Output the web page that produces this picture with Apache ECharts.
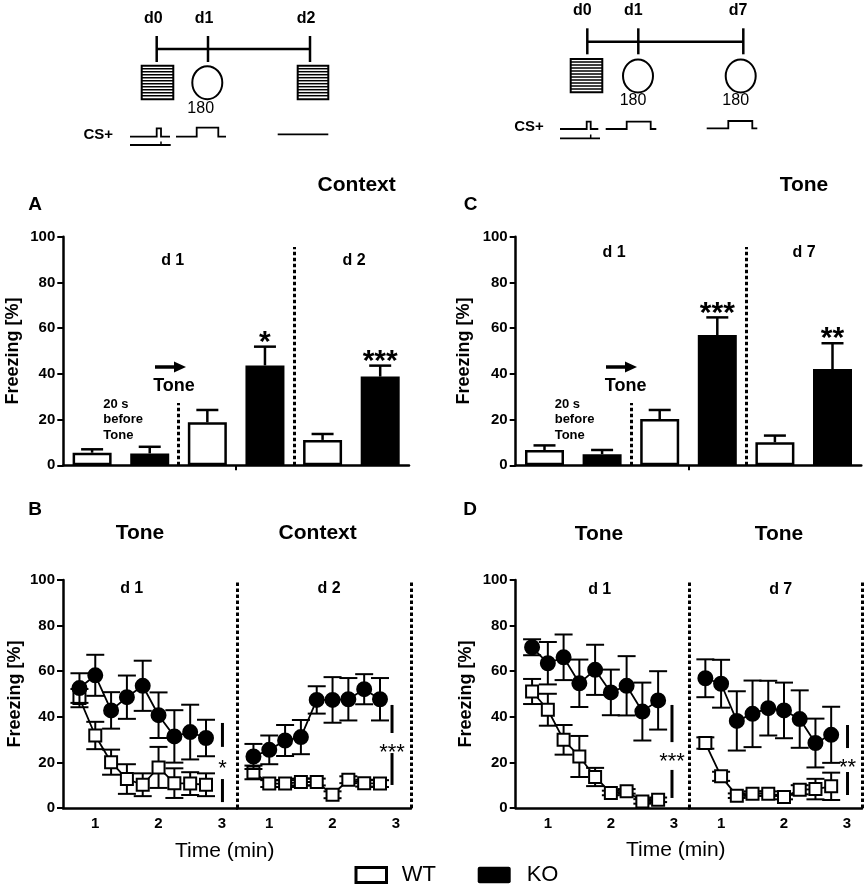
<!DOCTYPE html>
<html><head><meta charset="utf-8">
<script src="https://cdn.jsdelivr.net/npm/echarts@6/dist/echarts.min.js"></script>
<style>html,body{margin:0;padding:0;background:#fff}#c{width:868px;height:889px}</style>
</head><body><div id="c"></div>
<script>
// ---------- DATA ----------
// Panels A / C : bar groups (20 s before tone, tone d1, retrieval)
const barGroups = ['WT', 'KO', 'WT', 'KO', 'WT', 'KO'];
const aMeans  = [5.5, 5.2, 18.8, 43.7, 11.1, 38.8];
const aErrors = [1.5, 2.9, 5.4, 8.2, 2.6, 4.8];
const aStars  = ['', '', '', '*', '', '***'];
const cMeans  = [6.7, 4.8, 20.2, 57.0, 10.1, 42.1];
const cErrors = [2.0, 1.9, 4.0, 7.7, 2.9, 11.3];
const cStars  = ['', '', '', '***', '', '**'];

// Panels B / D : time course (min)
const timeBins  = [0.75, 1.0, 1.25, 1.5, 1.75, 2.0, 2.25, 2.5, 2.75];
const timeTicks = [1, 2, 3];
const yTicksStep = 20;

const bD1KO    = [52.6, 58.2, 42.8, 48.6, 53.6, 40.7, 31.4, 33.3, 30.7];
const bD1KOErr = [6.5, 9.0, 8.0, 9.5, 11.0, 10.0, 11.5, 12.0, 8.0];
const bD1WT    = [48.2, 31.8, 20.1, 12.7, 10.2, 17.8, 10.9, 10.7, 10.2];
const bD1WTErr = [4.0, 6.0, 5.5, 6.5, 5.0, 9.0, 6.5, 5.0, 5.0];
const bD2KO    = [22.6, 25.5, 29.6, 31.1, 47.4, 47.4, 47.7, 52.1, 47.7];
const bD2KOErr = [5.5, 6.3, 6.8, 7.5, 6.0, 10.0, 9.3, 6.6, 9.3];
const bD2WT    = [15.6, 10.7, 10.7, 11.4, 11.4, 5.8, 12.4, 10.9, 10.7];
const bD2WTErr = [3.0, 1.5, 1.5, 1.5, 1.5, 1.5, 1.5, 1.5, 1.5];

const dD1KO    = [70.5, 63.5, 66.1, 54.7, 60.6, 50.7, 53.6, 42.3, 47.2];
const dD1KOErr = [3.5, 9.3, 10.0, 10.4, 11.0, 10.0, 13.0, 12.7, 12.8];
const dD1WT    = [51.1, 43.1, 29.9, 22.6, 13.6, 6.6, 7.3, 2.9, 3.6];
const dD1WTErr = [5.5, 7.0, 6.5, 9.0, 4.0, 1.0, 1.0, 1.0, 1.0];
const dD7KO    = [56.9, 54.5, 38.2, 41.3, 43.8, 42.8, 39.0, 28.5, 32.1];
const dD7KOErr = [8.3, 10.5, 13.0, 14.6, 12.0, 12.2, 12.6, 10.7, 12.3];
const dD7WT    = [28.5, 13.9, 5.4, 6.3, 6.3, 4.8, 8.0, 8.3, 9.5];
const dD7WTErr = [2.5, 2.0, 1.0, 1.0, 1.0, 1.0, 2.0, 4.5, 6.0];

// significance brackets: [x, top, upperEnd, lowerStart, bottom, starY]
const sigB1 = [3.01, 37.3, 26.8, 12.7, 2.6, 19.7];
const sigB2 = [2.94, 45.2, 32.9, 24.1, 10.1, 26.8];
const sigD1 = [2.97, 45.2, 28.9, 16.7, 4.4, 22.8];
const sigD2 = [3.01, 36.4, 26.3, 15.8, 5.7, 20.2];
const sigLabels = ['*', '***', '***', '**'];

// ---------- BUILD ----------
const FONT = '"Liberation Sans", Arial, sans-serif';
const K = '#000';
const chart = echarts.init(document.getElementById('c'), null, {renderer: 'canvas'});

function barX(g) {
  return {type: 'value', gridIndex: g, min: -0.5, max: 5.5,
    axisLine: {show: true, onZero: false, lineStyle: {color: K, width: 2.5}},
    axisTick: {show: true, customValues: [2.5], length: 5, lineStyle: {color: K, width: 2}},
    axisLabel: {show: false}, splitLine: {show: false}};
}
function timeX(g) {
  return {type: 'value', gridIndex: g, min: 0.49, max: 3.24,
    axisLine: {show: true, onZero: false, lineStyle: {color: K, width: 2.5}},
    axisTick: {show: false},
    axisLabel: {customValues: timeTicks, color: K, fontFamily: FONT, fontWeight: 'bold', fontSize: 15, margin: 8},
    splitLine: {show: false}};
}
function yAx(g, show, gap) {
  return {type: 'value', gridIndex: g, min: 0, max: 100, interval: yTicksStep, show: show,
    name: 'Freezing [%]', nameLocation: 'middle', nameGap: gap,
    nameTextStyle: {color: K, fontFamily: FONT, fontWeight: 'bold', fontSize: 18},
    axisLine: {show: true, onZero: false, lineStyle: {color: K, width: 2.5}},
    axisTick: {show: true, length: 6, lineStyle: {color: K, width: 2}},
    axisLabel: {color: K, fontFamily: FONT, fontWeight: 'bold', fontSize: 15, margin: 8},
    splitLine: {show: false}};
}
const dotted = {color: K, width: 3, type: [3.5, 2.5]};

function barSeries(g, means) {
  return {type: 'bar', xAxisIndex: g, yAxisIndex: g, barWidth: 39, z: 2,
    data: means.map((v, i) => ({value: [i, v], itemStyle: {color: barGroups[i] === 'WT' ? '#fff' : K, borderColor: K, borderWidth: 2.5}})),
    markLine: {silent: true, symbol: ['none', 'none'], label: {show: false}, lineStyle: dotted,
      data: [[{coord: [1.5, 0]}, {coord: [1.5, 27.3]}], [{coord: [3.5, 0]}, {coord: [3.5, 95.5]}]]}};
}
function barErrSeries(g, means, errs, stars) {
  return {type: 'custom', xAxisIndex: g, yAxisIndex: g, z: 3,
    data: means.map((v, i) => [i, v, errs[i]]),
    renderItem: (params, api) => {
      const x = api.value(0), m = api.value(1), e = api.value(2);
      const p0 = api.coord([x, m]), p1 = api.coord([x, m + e]);
      const ch = [
        {type: 'line', shape: {x1: p0[0], y1: p0[1], x2: p1[0], y2: p1[1]}, style: {stroke: K, lineWidth: 2.5}},
        {type: 'line', shape: {x1: p1[0] - 11, y1: p1[1], x2: p1[0] + 11, y2: p1[1]}, style: {stroke: K, lineWidth: 2.5}}
      ];
      const s = stars[params.dataIndex];
      if (s) ch.push({type: 'text', style: {text: s, x: p1[0], y: p1[1] - 4, font: 'bold 30px ' + FONT, fill: K, align: 'center', verticalAlign: 'middle'}});
      return {type: 'group', children: ch};
    }};
}
function lineErrSeries(g, vals, errs, z) {
  return {type: 'custom', xAxisIndex: g, yAxisIndex: g, z: z, clip: false,
    data: vals.map((v, i) => [timeBins[i], v, errs[i]]),
    renderItem: (params, api) => {
      const x = api.value(0), m = api.value(1), e = api.value(2);
      const lo = api.coord([x, m - e]), hi = api.coord([x, m + e]);
      const st = {stroke: K, lineWidth: 2};
      return {type: 'group', children: [
        {type: 'line', shape: {x1: lo[0], y1: lo[1], x2: hi[0], y2: hi[1]}, style: st},
        {type: 'line', shape: {x1: lo[0] - 9, y1: lo[1], x2: lo[0] + 9, y2: lo[1]}, style: st},
        {type: 'line', shape: {x1: hi[0] - 9, y1: hi[1], x2: hi[0] + 9, y2: hi[1]}, style: st}
      ]};
    }};
}
function lineSeries(g, vals, isKO, z, withDash) {
  const s = {type: 'line', xAxisIndex: g, yAxisIndex: g, z: z, clip: false,
    data: vals.map((v, i) => [timeBins[i], v]),
    symbol: isKO ? 'circle' : 'rect', symbolSize: isKO ? 14 : 12,
    itemStyle: {color: isKO ? K : '#fff', borderColor: K, borderWidth: 2},
    lineStyle: {color: K, width: 1.8}};
  if (withDash) s.markLine = {silent: true, symbol: ['none', 'none'], label: {show: false}, lineStyle: dotted,
    data: [[{coord: [3.24, 0]}, {coord: [3.24, 100]}]]};
  return s;
}
function sigSeries(g, sig, label) {
  return {type: 'custom', xAxisIndex: g, yAxisIndex: g, z: 6, clip: false,
    data: [sig],
    renderItem: (params, api) => {
      const x = api.value(0);
      const a = api.coord([x, api.value(1)]), b = api.coord([x, api.value(2)]);
      const c = api.coord([x, api.value(3)]), d = api.coord([x, api.value(4)]);
      const t = api.coord([x, api.value(5)]);
      const st = {stroke: K, lineWidth: 3};
      return {type: 'group', children: [
        {type: 'line', shape: {x1: a[0], y1: a[1], x2: b[0], y2: b[1]}, style: st},
        {type: 'line', shape: {x1: c[0], y1: c[1], x2: d[0], y2: d[1]}, style: st},
        {type: 'text', style: {text: label, x: t[0], y: t[1] + 6, font: '22px ' + FONT, fill: K, align: 'center', verticalAlign: 'middle'}}
      ]};
    }};
}
function timePanel(gl, gr, d1WT, d1WTe, d1KO, d1KOe, d2WT, d2WTe, d2KO, d2KOe, sl, sr, ll, lr) {
  return [
    lineErrSeries(gl, d1WT, d1WTe, 2), lineSeries(gl, d1WT, false, 3, false),
    lineErrSeries(gl, d1KO, d1KOe, 4), lineSeries(gl, d1KO, true, 5, true),
    sigSeries(gl, sl, ll),
    lineErrSeries(gr, d2WT, d2WTe, 2), lineSeries(gr, d2WT, false, 3, false),
    lineErrSeries(gr, d2KO, d2KOe, 4), lineSeries(gr, d2KO, true, 5, true),
    sigSeries(gr, sr, lr)
  ];
}

// ---------- GRAPHIC (schematics, titles, labels) ----------
function T(x, y, s, size, bold, align) {
  return {type: 'text', x: x, y: y, silent: true,
    style: {text: s, font: (bold ? 'bold ' : '') + size + 'px ' + FONT, fill: K, align: align || 'center', verticalAlign: 'middle'}};
}
function L(pts, w) {
  return {type: 'polyline', silent: true, shape: {points: pts}, style: {stroke: K, lineWidth: w || 2, fill: null}};
}
function stripeBox(x, y, w, h) {
  const ch = [{type: 'rect', shape: {x: x, y: y, width: w, height: h}, style: {fill: '#fff', stroke: K, lineWidth: 2}}];
  for (let yy = y + 3; yy < y + h - 1; yy += 3) ch.push(L([[x, yy], [x + w, yy]], 1.5));
  return {type: 'group', silent: true, children: ch};
}
function ell(cx, cy) {
  return {type: 'ellipse', silent: true, shape: {cx: cx, cy: cy, rx: 15, ry: 16.5}, style: {fill: '#fff', stroke: K, lineWidth: 2}};
}
function arrow(x1, x2, y) {
  return {type: 'group', silent: true, children: [
    L([[x1, y], [x2 - 10, y]], 3.5),
    {type: 'polygon', shape: {points: [[x2 - 12, y - 5.5], [x2, y], [x2 - 12, y + 5.5]]}, style: {fill: K}}
  ]};
}
const graphics = [
  // left schematic
  T(153.3, 18.3, 'd0', 16, true), T(204, 18.3, 'd1', 16, true), T(306, 18.3, 'd2', 16, true),
  L([[156.7, 49], [310, 49]], 2.5), L([[156.7, 36], [156.7, 62]], 2.5), L([[208, 36], [208, 62]], 2.5), L([[310, 36], [310, 62]], 2.5),
  stripeBox(141.7, 65.7, 31.6, 33.6), stripeBox(297.7, 65.7, 30.6, 33.6), ell(207.3, 82.7),
  T(200.7, 108.3, '180', 16, false), T(98.3, 135, 'CS+', 15, true),
  L([[130, 136.7], [156.7, 136.7], [156.7, 128.3], [161, 128.3], [161, 136.7], [170, 136.7]], 1.8),
  L([[130, 145], [170.7, 145]], 1.8), L([[161, 141.5], [161, 145]], 1.5),
  L([[176, 136.7], [196.7, 136.7], [196.7, 127.7], [218.3, 127.7], [218.3, 136.7], [226, 136.7]], 1.8),
  L([[277.7, 134.3], [328.3, 134.3]], 1.8),
  // right schematic
  T(582.3, 10.7, 'd0', 16, true), T(633.3, 10.7, 'd1', 16, true), T(738, 10.7, 'd7', 16, true),
  L([[587.3, 41.7], [743.3, 41.7]], 2.5), L([[587.3, 28.3], [587.3, 54.3]], 2.5), L([[638.3, 28.3], [638.3, 54.3]], 2.5), L([[743.3, 28.3], [743.3, 54.3]], 2.5),
  stripeBox(570.7, 59, 31.6, 33.3), ell(638, 76), ell(740.7, 76),
  T(633, 101, '180', 16, false), T(735.7, 101, '180', 16, false), T(529, 126.7, 'CS+', 15, true),
  L([[560, 129], [586.7, 129], [586.7, 121.7], [590.7, 121.7], [590.7, 129], [598.3, 129]], 1.8),
  L([[560, 138.3], [600, 138.3]], 1.8), L([[590.7, 134.5], [590.7, 138.3]], 1.5),
  L([[605.7, 129], [626.7, 129], [626.7, 121.7], [650.7, 121.7], [650.7, 129], [656.3, 129]], 1.8),
  L([[706.7, 128.3], [728.3, 128.3], [728.3, 121], [752.3, 121], [752.3, 128.3], [757.3, 128.3]], 1.8),
  // panel A
  T(35, 205, 'A', 19, true), T(356.7, 185, 'Context', 21, true),
  T(172.7, 260.7, 'd 1', 16, true), T(354, 260.7, 'd 2', 16, true),
  arrow(155, 186, 367), T(174, 386, 'Tone', 18, true),
  T(103.3, 404, '20 s', 13, true, 'left'), T(103.3, 419.5, 'before', 13, true, 'left'), T(103.3, 435, 'Tone', 13, true, 'left'),
  // panel C
  T(470.7, 205, 'C', 19, true), T(804, 185.7, 'Tone', 21, true),
  T(614, 252.7, 'd 1', 16, true), T(804, 252.7, 'd 7', 16, true),
  arrow(606, 637, 367), T(625.7, 386, 'Tone', 18, true),
  T(554.7, 404, '20 s', 13, true, 'left'), T(554.7, 419.5, 'before', 13, true, 'left'), T(554.7, 435, 'Tone', 13, true, 'left'),
  // panel B
  T(35, 510, 'B', 19, true), T(140, 533, 'Tone', 21, true), T(317.7, 533, 'Context', 21, true),
  T(131.7, 589, 'd 1', 16, true), T(329, 589, 'd 2', 16, true),
  T(224.7, 851.7, 'Time (min)', 21, false),
  // panel D
  T(470, 510, 'D', 19, true), T(599, 534, 'Tone', 21, true), T(779, 534, 'Tone', 21, true),
  T(599.7, 590, 'd 1', 16, true), T(780.7, 590, 'd 7', 16, true),
  T(675.8, 850.7, 'Time (min)', 21, false),
  // legend
  {type: 'rect', silent: true, shape: {x: 356, y: 867.5, width: 30.5, height: 15}, style: {fill: '#fff', stroke: K, lineWidth: 3}},
  T(401.7, 875, 'WT', 22, false, 'left'),
  {type: 'rect', silent: true, shape: {x: 477.7, y: 866.7, width: 33, height: 16.6, r: 2}, style: {fill: K}},
  T(526.7, 875, 'KO', 22, false, 'left')
];

const option = {
  animation: false,
  backgroundColor: '#fff',
  grid: [
    {left: 63.3, top: 236.7, width: 345.7, height: 228.6},
    {left: 515.7, top: 236.7, width: 345.6, height: 228.6},
    {left: 63, top: 580, width: 174, height: 228},
    {left: 237, top: 580, width: 174, height: 228},
    {left: 515.7, top: 580, width: 173.3, height: 228},
    {left: 689, top: 580, width: 173, height: 228}
  ],
  xAxis: [barX(0), barX(1), timeX(2), timeX(3), timeX(4), timeX(5)],
  yAxis: [yAx(0, true, 41), yAx(1, true, 43), yAx(2, true, 39), yAx(3, false, 0), yAx(4, true, 41), yAx(5, false, 0)],
  series: [
    barSeries(0, aMeans), barErrSeries(0, aMeans, aErrors, aStars),
    barSeries(1, cMeans), barErrSeries(1, cMeans, cErrors, cStars)
  ].concat(
    timePanel(2, 3, bD1WT, bD1WTErr, bD1KO, bD1KOErr, bD2WT, bD2WTErr, bD2KO, bD2KOErr, sigB1, sigB2, sigLabels[0], sigLabels[1]),
    timePanel(4, 5, dD1WT, dD1WTErr, dD1KO, dD1KOErr, dD7WT, dD7WTErr, dD7KO, dD7KOErr, sigD1, sigD2, sigLabels[2], sigLabels[3])
  ),
  graphic: graphics
};
chart.setOption(option);
</script>
</body></html>
